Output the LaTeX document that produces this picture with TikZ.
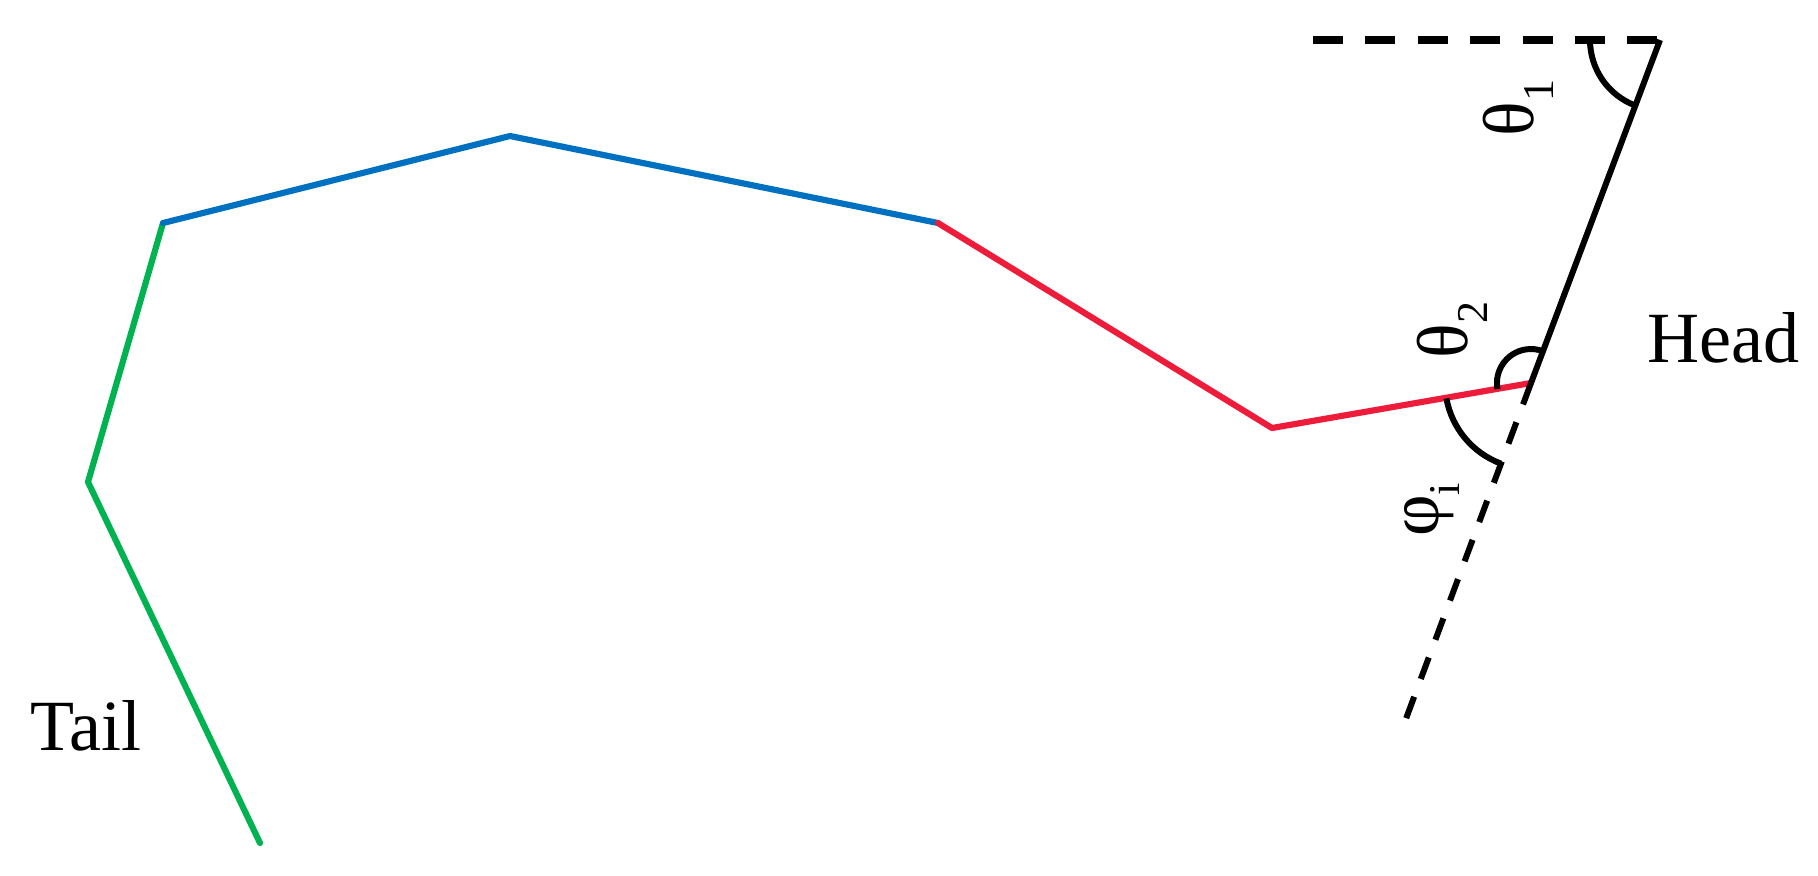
\documentclass[tikz,border=0pt]{standalone}
\usepackage{fontspec}
\setmainfont{Liberation Serif}
\usetikzlibrary{calc}
\definecolor{segGreen}{RGB}{0,178,80}
\definecolor{segBlue}{RGB}{0,112,192}
\definecolor{segRed}{RGB}{237,28,58}
\begin{document}
\begin{tikzpicture}[x=0.01cm,y=-0.01cm,
  seg/.style={line width=1.75pt, line join=round, line cap=round},
  ref/.style={line width=1.7pt, black},
  angarc/.style={line width=1.7pt, black},
  lbl/.style={font=\fontsize{20.5}{24}\selectfont, inner sep=0pt},
  anglbl/.style={font=\fontsize{20.5}{24}\selectfont, inner sep=0pt, rotate=90}]
\useasboundingbox (0,0) rectangle (1818,875);
% joint coordinates
\coordinate (p0) at (260,843);
\coordinate (p1) at (88,482);
\coordinate (p2) at (163,223);
\coordinate (p3) at (510,136);
\coordinate (p4) at (938,223);
\coordinate (p5) at (1272,428);
\coordinate (p6) at (1531,383);
\coordinate (top) at (1660,40);
\coordinate (hz) at (1313,40);
\coordinate (ext) at (1404,724);
% body segments
\draw[seg, segGreen] (p0) -- (p1) -- (p2);
\draw[seg, segBlue] (p2) -- (p3) -- (p4);
\draw[seg, segRed] (p4) -- (p5) -- (p6);
% head segment and references
\draw[ref] (p6) -- (top);
\draw[ref, line width=2pt, dash pattern=on 8.5pt off 6.4pt] (hz) -- (top);
\draw[ref, dash pattern=on 6.5pt off 5.4pt] (p6) -- (ext);
% angle arcs
\draw[angarc] ($(top)+(-70,0)$) arc[start angle=180, end angle=249.4, radius=0.7cm];
\draw[angarc] ($(p6)+(-33.5,6.1)$) arc[start angle=190.3, end angle=69.4, radius=0.34cm];
\draw[angarc] ($(p6)+(-84.6,15.4)$) arc[start angle=190.3, end angle=249.4, radius=0.86cm];
% labels
\node[anglbl] (th1) at (1518,108) {θ\raisebox{-0.28em}{\fontsize{12.5}{14}\selectfont 1}};
\node[anglbl] (th2) at (1452,330) {θ\raisebox{-0.28em}{\fontsize{12.5}{14}\selectfont 2}};
\node[anglbl] (phi) at (1432,510) {φ\raisebox{-0.28em}{\fontsize{12.5}{14}\selectfont i}};
\node[lbl, anchor=base west] (head) at (1647,362) {Head};
\node[lbl, anchor=base west] (tail) at (30,750) {Tail};
\end{tikzpicture}
\end{document}
